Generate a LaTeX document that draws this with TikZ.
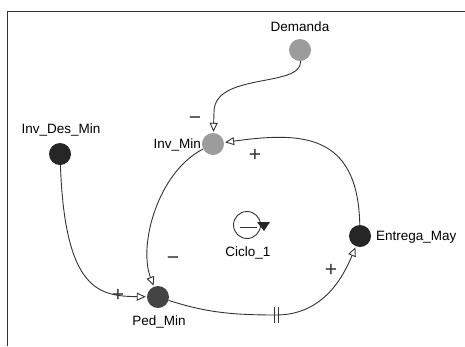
\documentclass[tikz,border=0pt]{standalone}
\usepackage{fontspec}
\setmainfont{Liberation Sans}
\usetikzlibrary{arrows.meta}
\definecolor{lgray}{HTML}{9C9C9C}
\definecolor{dgray}{HTML}{262626}
\definecolor{mgray}{HTML}{444444}
\definecolor{ln}{HTML}{333333}
\tikzset{
  var/.style={circle,minimum size=22pt,inner sep=0pt,draw=none},
  lab/.style={font=\fontsize{13.5pt}{14pt}\selectfont,text=black,inner sep=0pt},
  sgn/.style={font=\fontsize{21pt}{21pt}\selectfont,text=ln,inner sep=0pt},
  lnk/.style={draw=ln,line width=0.9pt,-{Triangle[open,length=9pt,width=8pt,line width=0.9pt]},shorten >=1pt}
}
\begin{document}
\begin{tikzpicture}[x=1pt,y=-1pt]
\useasboundingbox (0,0) rectangle (465,346);
\draw[line width=1pt,color=ln] (465,11) -- (7,11) -- (7,346);
% variables
\node[var,fill=lgray] (dem) at (300,50) {};
\node[var,fill=lgray] (inv) at (213,144) {};
\node[var,fill=dgray] (ides) at (60,154) {};
\node[var,fill=mgray] (ped) at (158,297) {};
\node[var,fill=dgray] (ent) at (360,236) {};
% labels
\node[lab] (ldem) at (300,27) {Demanda};
\node[lab,anchor=east] (linv) at (201,145) {Inv\_Min};
\node[lab] (lides) at (61,130) {Inv\_Des\_Min};
\node[lab] (lped) at (159,322) {Ped\_Min};
\node[lab,anchor=west] (lent) at (376,237) {Entrega\_May};
% links
\draw[lnk] (dem) .. controls (302,88) and (214,72) .. (214,112) -- (inv);
\draw[lnk] (ent) .. controls (358,132) and (300,132) .. (inv);
\draw[lnk] (inv) .. controls (158,172) and (138,245) .. (ped);
\draw[lnk] (ides) .. controls (65,292) and (100,296) .. (ped);
\coordinate (dl) at (276,315);
\draw[draw=ln,line width=0.9pt] (ped) .. controls (205,312) and (230,315) .. (dl);
\draw[lnk] (dl) .. controls (318,315) and (340,285) .. (ent);
\draw[draw=ln,line width=0.9pt] (274.5,307) -- (274.5,323) (278.5,307) -- (278.5,323);
% signs
\node[sgn] (s1) at (195,121) {−};
\node[sgn] (s2) at (255,155) {+};
\node[sgn] (s3) at (173,261) {−};
\node[sgn] (s4) at (118,295) {+};
\node[sgn] (s5) at (331,270) {+};
% loop symbol
\node[circle,draw=ln,line width=0.9pt,minimum size=27pt,inner sep=0pt] (cyc) at (247,225) {};
\draw[draw=ln,line width=1pt] (240,227) -- (257,227);
\fill[dgray] (257,222) -- (270,222) -- (264,231) -- cycle;
\node[lab] (lcyc) at (248,253) {Ciclo\_1};
\end{tikzpicture}
\end{document}
